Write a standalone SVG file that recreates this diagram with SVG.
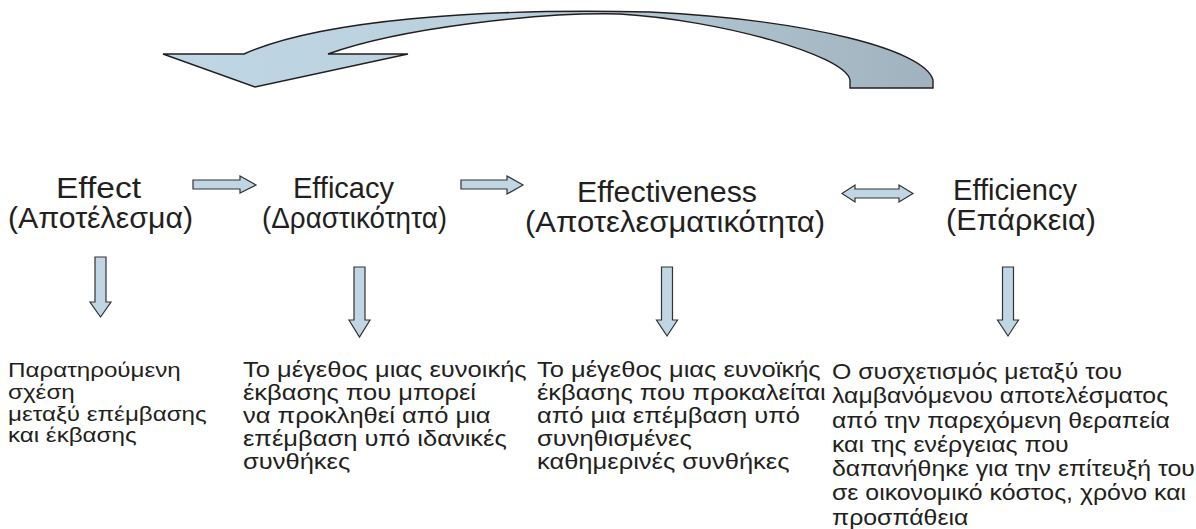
<svg xmlns="http://www.w3.org/2000/svg" width="1196" height="529" viewBox="0 0 1196 529">
<defs>
<linearGradient id="curveGrad" x1="160" y1="0" x2="935" y2="0" gradientUnits="userSpaceOnUse">
<stop offset="0" stop-color="#BFD6E4"/>
<stop offset="0.45" stop-color="#BAD0DD"/>
<stop offset="1" stop-color="#A0B2BE"/>
</linearGradient>
<style>
.arr{fill:#C0D6E4;stroke:#333;stroke-width:1.2;stroke-linejoin:miter}
.title{font-family:"Liberation Sans",Arial,sans-serif;font-size:30px;fill:#231F20;text-anchor:middle}
.desc{font-family:"Liberation Sans",Arial,sans-serif;font-size:22px;fill:#231F20}
.desc1{font-family:"Liberation Sans",Arial,sans-serif;font-size:20.5px;fill:#231F20}
</style>
</defs>
<rect width="1196" height="529" fill="#fff"/>
<g id="connectors">
<path id="curve" d="M933,88 L933,80 C925,50 810,20 650,12 C480,8 320,20 244,54 L163,54 L255,87 L408,54 L328,54 C400,28 540,12 620,14 C720,20 845,55 850,80 L850,88 Z" fill="url(#curveGrad)" stroke="#231F20" stroke-width="1.4" stroke-linejoin="miter"/>
<path class="arr" d="M193,180 L240,180 L240,176 L256,185 L240,193 L240,189 L193,189 Z"/>
<path class="arr" d="M461,180 L507,180 L507,176 L523,185 L507,194 L507,189 L461,189 Z"/>
<path class="arr" d="M842,193.5 L855,185 L855,189 L899,189 L899,185 L913,193.5 L899,202 L899,198 L855,198 L855,202 Z"/>
<path class="arr" d="M95,257 L106,257 L106,302 L111,302 L100.5,317 L90,302 L95,302 Z"/>
<path class="arr" d="M354,267 L365,267 L365,320 L370,320 L359.5,337 L349,320 L354,320 Z"/>
<path class="arr" d="M661.5,267 L672.5,267 L672.5,320 L677.5,320 L667,336 L656.5,320 L661.5,320 Z"/>
<path class="arr" d="M1002.5,267 L1013.5,267 L1013.5,320 L1018.5,320 L1008,336 L997.5,320 L1002.5,320 Z"/>
</g>
<g id="node-effect">
<text class="title" x="98.5" y="198" textLength="85" lengthAdjust="spacingAndGlyphs">Effect</text>
<text class="title" x="100.5" y="228" textLength="185" lengthAdjust="spacingAndGlyphs">(Αποτέλεσμα)</text>
</g>
<g id="node-efficacy">
<text class="title" x="343.5" y="198" textLength="101" lengthAdjust="spacingAndGlyphs">Efficacy</text>
<text class="title" x="354.5" y="228" textLength="185" lengthAdjust="spacingAndGlyphs">(Δραστικότητα)</text>
</g>
<g id="node-effectiveness">
<text class="title" x="667" y="202" textLength="180" lengthAdjust="spacingAndGlyphs">Effectiveness</text>
<text class="title" x="675" y="232" textLength="300" lengthAdjust="spacingAndGlyphs">(Αποτελεσματικότητα)</text>
</g>
<g id="node-efficiency">
<text class="title" x="1015" y="200" textLength="124" lengthAdjust="spacingAndGlyphs">Efficiency</text>
<text class="title" x="1021" y="230" textLength="150" lengthAdjust="spacingAndGlyphs">(Επάρκεια)</text>
</g>
<g id="desc-effect" transform="translate(8,0) scale(1.18,1)">
<text class="desc1" y="377"><tspan x="0">Παρατηρούμενη</tspan><tspan x="0" dy="21.8">σχέση</tspan><tspan x="0" dy="21.8">μεταξύ επέμβασης</tspan><tspan x="0" dy="21.8">και έκβασης</tspan></text>
</g>
<g id="desc-efficacy" transform="translate(243,0) scale(1.16,1)">
<text class="desc" y="377"><tspan x="0">Το μέγεθος μιας ευνοικής</tspan><tspan x="0" dy="23">έκβασης που μπορεί</tspan><tspan x="0" dy="23">να προκληθεί από μια</tspan><tspan x="0" dy="23">επέμβαση υπό ιδανικές</tspan><tspan x="0" dy="23">συνθήκες</tspan></text>
</g>
<g id="desc-effectiveness" transform="translate(537,0) scale(1.16,1)">
<text class="desc" y="377"><tspan x="0">Το μέγεθος μιας ευνοϊκής</tspan><tspan x="0" dy="23">έκβασης που προκαλείται</tspan><tspan x="0" dy="23">από μια επέμβαση υπό</tspan><tspan x="0" dy="23">συνηθισμένες</tspan><tspan x="0" dy="23">καθημερινές συνθήκες</tspan></text>
</g>
<g id="desc-efficiency" transform="translate(832,0) scale(1.13,1)">
<text class="desc" y="379"><tspan x="0">Ο συσχετισμός μεταξύ του</tspan><tspan x="0" dy="24.3">λαμβανόμενου αποτελέσματος</tspan><tspan x="0" dy="24.3">από την παρεχόμενη θεραπεία</tspan><tspan x="0" dy="24.3">και της ενέργειας που</tspan><tspan x="0" dy="24.3">δαπανήθηκε για την επίτευξή του</tspan><tspan x="0" dy="24.3">σε οικονομικό κόστος, χρόνο και</tspan><tspan x="0" dy="24.3">προσπάθεια</tspan></text>
</g>
</svg>
